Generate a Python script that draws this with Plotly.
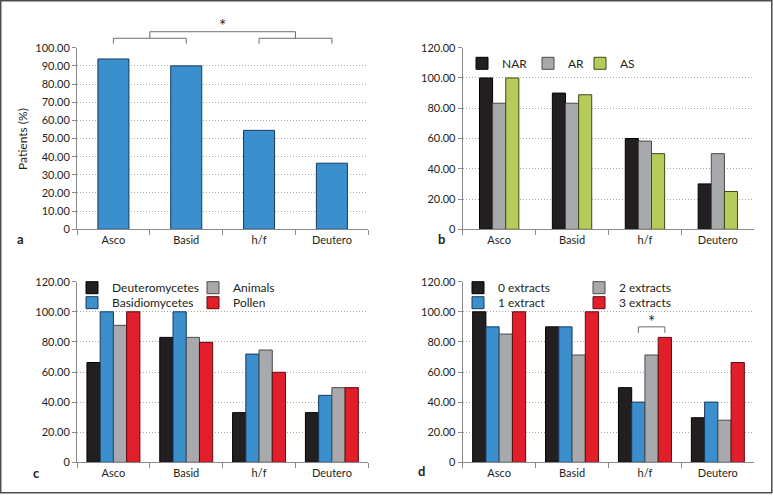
import plotly.graph_objects as go

# ---------------- data ----------------
categories = ["Asco", "Basid", "h/f", "Deutero"]

# panel a
patients_pct = [93.8, 90.0, 54.5, 36.4]

# panel b
nar = [100.0, 90.0, 60.0, 30.0]
ar = [83.3, 83.3, 58.3, 50.0]
as_vals = [100.0, 88.9, 50.0, 25.0]

# panel c
deuteromycetes = [66.3, 83.0, 33.0, 33.0]
basidiomycetes = [100.0, 100.0, 71.9, 44.5]
animals = [91.0, 83.0, 74.6, 49.6]
pollen = [100.0, 79.7, 59.8, 49.6]

# panel d
extracts0 = [100.0, 90.0, 49.6, 29.6]
extracts1 = [90.0, 90.0, 40.0, 40.0]
extracts2 = [85.2, 71.3, 71.3, 28.0]
extracts3 = [100.0, 100.0, 83.0, 66.3]

yticks_a = [0, 10, 20, 30, 40, 50, 60, 70, 80, 90, 100]
yticklabels_a = ["0", "10.00", "20.00", "30.00", "40.00", "50.00",
                 "60.00", "70.00", "80.00", "90.00", "100.00"]
yticks_bcd = [0, 20, 40, 60, 80, 100, 120]
yticklabels_bcd = ["0", "20.00", "40.00", "60.00", "80.00", "100.00", "120.00"]

# ---------------- style ----------------
W, H = 773, 496
FONT = "Lato"
TXT = "#231f20"
AXC = "#8a8a8a"
GRIDC = "#a8a8a8"

BLACK, BLACK_E = "#231f20", "#000000"
GRAY, GRAY_E = "#a7a9ac", "#4a4a4a"
GREEN, GREEN_E = "#b5cb5b", "#3d4a16"
BLUE, BLUE_E = "#3a8fcc", "#173a5c"
RED, RED_E = "#e01f2b", "#5e0a10"


def px_x(p):
    return p / W


def px_y(p):
    return 1 - p / H


dom_x_left = [px_x(77), px_x(368.3)]
dom_x_right = [px_x(462.7), px_x(754.3)]
dom_y_top = [px_y(229.3), px_y(47.7)]
dom_y_bot = [px_y(462.3), px_y(281.7)]

fig = go.Figure()


def add_bar(y, xa, ya, color, edge, width, offset, name=None, legend=None):
    fig.add_trace(go.Bar(
        x=categories, y=y, xaxis=xa, yaxis=ya,
        marker=dict(color=color, line=dict(color=edge, width=1)),
        width=width, offset=offset,
        name=name if name else "",
        showlegend=bool(name), legend=legend if legend else "legend",
        hoverinfo="skip",
    ))


# panel a
add_bar(patients_pct, "x", "y", BLUE, BLUE_E, 0.426, -0.213)

# panel b
wb = 0.18
for k, (vals, col, edge, nm, lg) in enumerate([
        (nar, BLACK, BLACK_E, "NAR", "legend"),
        (ar, GRAY, GRAY_E, "AR", "legend2"),
        (as_vals, GREEN, GREEN_E, "AS", "legend3")]):
    add_bar(vals, "x2", "y2", col, edge, wb, -1.5 * wb + k * wb, nm, lg)

# panel c
wc = 0.1817
for k, (vals, col, edge, nm, lg) in enumerate([
        (deuteromycetes, BLACK, BLACK_E, "Deuteromycetes", "legend4"),
        (basidiomycetes, BLUE, BLUE_E, "Basidiomycetes", "legend5"),
        (animals, GRAY, GRAY_E, "Animals", "legend6"),
        (pollen, RED, RED_E, "Pollen", "legend7")]):
    add_bar(vals, "x3", "y3", col, edge, wc, -2 * wc + k * wc, nm, lg)

# panel d
for k, (vals, col, edge, nm, lg) in enumerate([
        (extracts0, BLACK, BLACK_E, "0 extracts", "legend8"),
        (extracts1, BLUE, BLUE_E, "1 extract", "legend9"),
        (extracts2, GRAY, GRAY_E, "2 extracts", "legend10"),
        (extracts3, RED, RED_E, "3 extracts", "legend11")]):
    add_bar(vals, "x4", "y4", col, edge, wc, -2 * wc + k * wc, nm, lg)


def xaxis(domain, anchor):
    return dict(domain=domain, anchor=anchor, type="category",
                range=[-0.5, 3.5], showline=True, linecolor=AXC, linewidth=1,
                ticks="outside", tickson="boundaries", ticklen=5, tickcolor=AXC,
                tickwidth=1, showgrid=False, zeroline=False, automargin=False,
                tickfont=dict(family=FONT, size=11, color=TXT), fixedrange=True)


def yaxis(domain, anchor, rng, tv, tt):
    return dict(domain=domain, anchor=anchor, range=rng, tickvals=tv, ticktext=tt,
                showline=True, linecolor=AXC, linewidth=1, ticks="outside",
                ticklen=4, tickcolor=AXC, tickwidth=1, showgrid=True,
                gridcolor=GRIDC, griddash="1px,2px", gridwidth=1, zeroline=False,
                automargin=False,
                tickfont=dict(family=FONT, size=11, color=TXT), fixedrange=True)


legend_common = dict(bgcolor="rgba(0,0,0,0)", borderwidth=0, orientation="v",
                     xanchor="left", yanchor="middle",
                     font=dict(family=FONT, size=12, color=TXT),
                     itemclick=False, itemdoubleclick=False)


def leg(xp, yp):
    d = dict(legend_common)
    d.update(x=px_x(xp), y=px_y(yp))
    return d


layout = dict(
    width=W, height=H,
    margin=dict(l=0, r=0, t=0, b=0, pad=0, autoexpand=False),
    paper_bgcolor="white", plot_bgcolor="white",
    barmode="overlay", showlegend=True,
    xaxis=xaxis(dom_x_left, "y"),
    yaxis=yaxis(dom_y_top, "x", [0, 100], yticks_a, yticklabels_a),
    xaxis2=xaxis(dom_x_right, "y2"),
    yaxis2=yaxis(dom_y_top, "x2", [0, 120], yticks_bcd, yticklabels_bcd),
    xaxis3=xaxis(dom_x_left, "y3"),
    yaxis3=yaxis(dom_y_bot, "x3", [0, 120], yticks_bcd, yticklabels_bcd),
    xaxis4=xaxis(dom_x_right, "y4"),
    yaxis4=yaxis(dom_y_bot, "x4", [0, 120], yticks_bcd, yticklabels_bcd),
    legend=leg(462, 63.3),
    legend2=leg(528, 63.3),
    legend3=leg(580, 63.3),
    legend4=leg(72, 287.7),
    legend5=leg(72, 302.7),
    legend6=leg(193, 287.7),
    legend7=leg(193, 302.7),
    legend8=leg(458, 287.7),
    legend9=leg(458, 302.7),
    legend10=leg(579, 287.7),
    legend11=leg(579, 302.7),
)
fig.update_layout(**layout)

shapes = []
# outer frame
shapes.append(dict(type="rect", xref="paper", yref="paper",
                   x0=px_x(0.7), x1=px_x(771.8), y0=px_y(492.8), y1=px_y(0.7),
                   line=dict(color="#4d4d4d", width=1.5), fillcolor="rgba(0,0,0,0)"))

BR = "#6d6d6d"


def bracket(xref, yref, xa, xb, ytop, ydrop):
    shapes.append(dict(type="path", xref=xref, yref=yref,
                       path=f"M {xa},{ydrop} L {xa},{ytop} L {xb},{ytop} L {xb},{ydrop}",
                       line=dict(color=BR, width=1)))


# panel a brackets (domain coords)
bracket("x domain", "y domain", 0.125, 0.375, 1.052, 1.022)
bracket("x domain", "y domain", 0.625, 0.875, 1.052, 1.022)
bracket("x domain", "y domain", 0.25, 0.75, 1.088, 1.052)

# panel d bracket between "1 extract" and "3 extracts" in h/f
xa = 2 - 2 * wc + 1.5 * wc
xb = 2 - 2 * wc + 3.5 * wc
bracket("x4", "y4", xa, xb, 90.0, 86.0)

fig.update_layout(shapes=shapes)

ann = []
ann.append(dict(text="*", xref="x domain", yref="y domain", x=0.5, y=1.12,
                showarrow=False, font=dict(family=FONT, size=17, color=TXT),
                xanchor="center", yanchor="middle"))
ann.append(dict(text="*", xref="x4", yref="y4", x=(xa + xb) / 2, y=93.5,
                showarrow=False, font=dict(family=FONT, size=17, color=TXT),
                xanchor="center", yanchor="middle"))
ann.append(dict(text="Patients (%)", xref="paper", yref="paper",
                x=px_x(22), y=px_y(139), textangle=-90, showarrow=False,
                font=dict(family=FONT, size=12, color=TXT),
                xanchor="center", yanchor="middle"))
for lbl, xp, yp in [("a", 20, 239), ("b", 441.7, 238.5),
                    ("c", 36.7, 472.7), ("d", 421.7, 470.5)]:
    ann.append(dict(text=f"<b>{lbl}</b>", xref="paper", yref="paper",
                    x=px_x(xp), y=px_y(yp), showarrow=False,
                    font=dict(family=FONT, size=13, color=TXT),
                    xanchor="center", yanchor="middle"))
fig.update_layout(annotations=ann)

fig.write_html(
    "out.html",
    config=dict(displayModeBar=False),
    post_script="document.body.style.margin='0px';document.body.style.padding='0px';"
                "document.body.style.overflow='hidden';",
)
